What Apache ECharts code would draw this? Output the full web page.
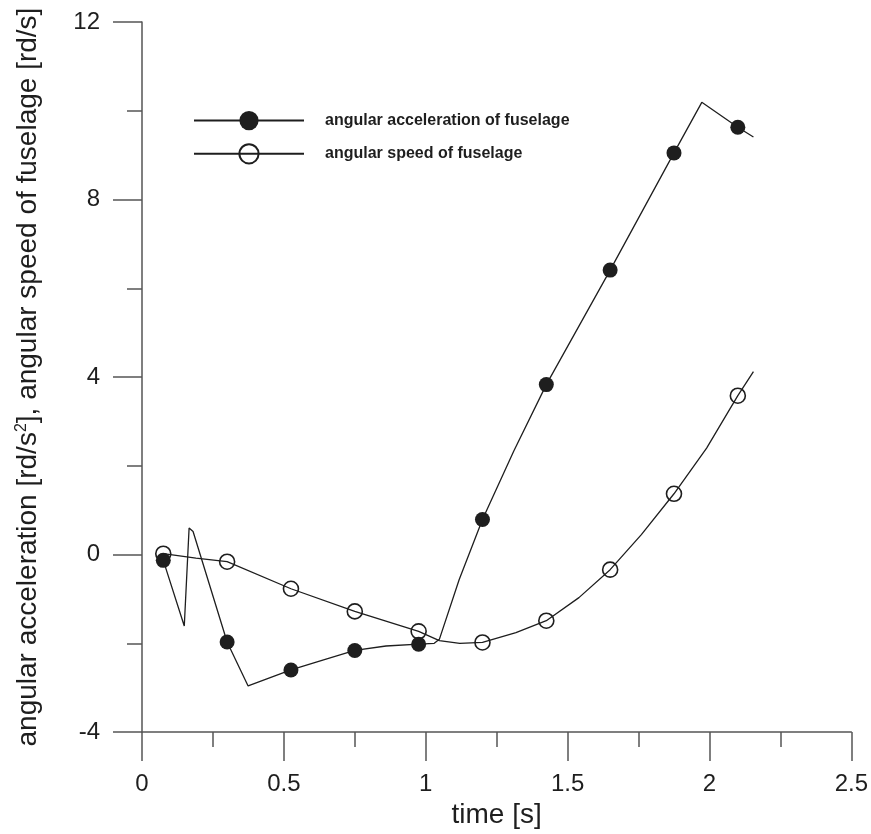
<!DOCTYPE html>
<html>
<head>
<meta charset="utf-8">
<script src="https://cdn.jsdelivr.net/npm/echarts@6/dist/echarts.min.js"></script>
<style>
html,body{margin:0;padding:0;background:#fff;}
#chart{width:871px;height:834px;}
</style>
</head>
<body>
<div id="chart"></div>
<script>
// ---- data ----
const seriesNames = ['angular acceleration of fuselage', 'angular speed of fuselage'];

// angular acceleration: continuous curve points [t, value]
const accelCurve = [
  [0.149, -1.61], [0.166, 0.60], [0.180, 0.52], [0.374, -2.96],
  [0.640, -2.37], [0.860, -2.06], [1.030, -2.00], [1.048, -1.91],
  [1.118, -0.56], [1.310, 2.33], [1.973, 10.19], [2.155, 9.41]
];
// angular acceleration: marker points [t, value]
const accelMarkers = [
  [0.075, -0.13], [0.300, -1.97], [0.525, -2.60], [0.750, -2.16], [0.975, -2.02],
  [1.200, 0.79], [1.425, 3.83], [1.650, 6.41], [1.875, 9.05], [2.100, 9.63]
];

// angular speed: continuous curve points [t, value]
const speedCurve = [
  [0.190, -0.08], [1.048, -1.94], [1.120, -2.00], [1.318, -1.76],
  [1.540, -0.97], [1.760, 0.45], [1.990, 2.40], [2.155, 4.12]
];
// angular speed: marker points [t, value]
const speedMarkers = [
  [0.075, 0.02], [0.300, -0.16], [0.525, -0.77], [0.750, -1.28], [0.975, -1.73],
  [1.200, -1.98], [1.425, -1.49], [1.650, -0.34], [1.875, 1.37], [2.100, 3.58]
];

const xTicks = { min: 0, max: 2.5, interval: 0.5 };
const yTicks = { min: -4, max: 12, interval: 4 };

// ---- build series data: merge curve + markers, markers show symbols ----
function merge(curve, markers) {
  const pts = curve.map(p => ({ value: p, symbol: 'none' }))
    .concat(markers.map(p => ({ value: p })));
  pts.sort((a, b) => a.value[0] - b.value[0]);
  return pts;
}

const FONT = '"Liberation Sans", Arial, sans-serif';
const INK = '#1e1e1e';
const AXIS = '#555';

const chart = echarts.init(document.getElementById('chart'), null, { renderer: 'canvas' });
chart.setOption({
  animation: false,
  backgroundColor: '#ffffff',
  grid: { left: 142, right: 18, top: 22, bottom: 101, containLabel: false },
  legend: {
    orient: 'vertical',
    left: 193,
    top: 111,
    padding: 0,
    itemWidth: 110,
    itemHeight: 24,
    itemGap: 13,
    data: seriesNames,
    textStyle: {
      fontFamily: '"Liberation Sans Narrow", "Liberation Sans", Arial, sans-serif',
      fontWeight: 'bold',
      fontSize: 16,
      color: INK,
      padding: [0, 0, 0, 16]
    }
  },
  xAxis: {
    type: 'value',
    min: xTicks.min, max: xTicks.max, interval: xTicks.interval,
    name: 'time [s]',
    nameLocation: 'middle',
    nameGap: 68,
    nameTextStyle: { fontFamily: FONT, fontSize: 28, color: INK },
    axisLine: { onZero: false, lineStyle: { color: AXIS, width: 1.5 } },
    axisTick: { show: true, inside: false, length: 29, lineStyle: { color: AXIS, width: 1.5 } },
    minorTick: { show: true, splitNumber: 2, length: 15, lineStyle: { color: AXIS, width: 1.5 } },
    axisLabel: { margin: 40, fontFamily: FONT, fontSize: 24, color: INK,
      formatter: v => String(v) },
    splitLine: { show: false },
    minorSplitLine: { show: false }
  },
  yAxis: {
    type: 'value',
    min: yTicks.min, max: yTicks.max, interval: yTicks.interval,
    name: 'angular acceleration [rd/s{sup|2}], angular speed of fuselage [rd/s]',
    nameLocation: 'middle',
    nameGap: 100,
    nameRotate: 90,
    nameTextStyle: {
      fontFamily: FONT, fontSize: 28, color: INK,
      rich: { sup: { fontFamily: FONT, fontSize: 16, color: INK, verticalAlign: 'top', padding: [0, 0, 9, 0] } }
    },
    axisLine: { onZero: false, lineStyle: { color: AXIS, width: 1.5 } },
    axisTick: { show: true, inside: false, length: 29, lineStyle: { color: AXIS, width: 1.5 } },
    minorTick: { show: true, splitNumber: 2, length: 15, lineStyle: { color: AXIS, width: 1.5 } },
    axisLabel: { margin: 42, fontFamily: FONT, fontSize: 24, color: INK },
    splitLine: { show: false },
    minorSplitLine: { show: false }
  },
  series: [
    {
      name: seriesNames[0],
      type: 'line',
      data: merge(accelCurve, accelMarkers),
      symbol: 'circle',
      symbolSize: 15,
      showAllSymbol: true,
      smooth: false,
      lineStyle: { color: INK, width: 1.3 },
      itemStyle: { color: INK, borderColor: INK, borderWidth: 0 },
      z: 3
    },
    {
      name: seriesNames[1],
      type: 'line',
      data: merge(speedCurve, speedMarkers),
      symbol: 'circle',
      symbolSize: 15,
      showAllSymbol: true,
      smooth: false,
      lineStyle: { color: INK, width: 1.3 },
      itemStyle: { color: 'rgba(255,255,255,0)', borderColor: INK, borderWidth: 1.6 },
      z: 2
    }
  ]
});
</script>
</body>
</html>
